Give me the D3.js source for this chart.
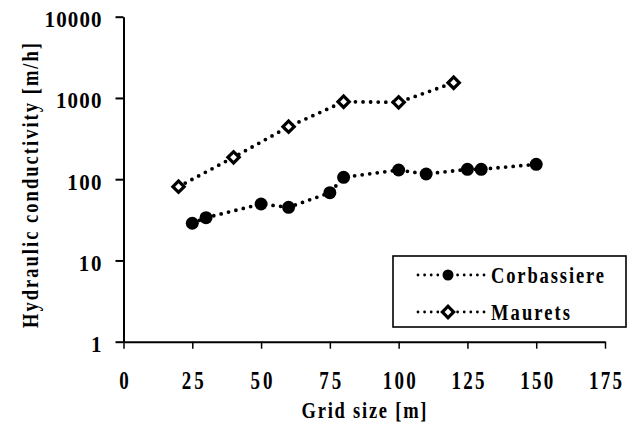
<!DOCTYPE html>
<html>
<head>
<meta charset="utf-8">
<script src="https://cdn.jsdelivr.net/npm/d3@7"></script>
<style>
  html, body { margin: 0; padding: 0; background: #fff; }
  svg { display: block; }
  text { font-family: "Liberation Serif", "Times New Roman", serif; font-weight: bold; fill: #000; }
</style>
</head>
<body>
<svg id="chart" width="637" height="424"></svg>
<script>
// ---- data ----
const corbassiereX = [25, 30, 50, 60, 75, 80, 100, 110, 125, 130, 150];
const corbassiereY = [28.7, 33.6, 49.5, 45.1, 68.2, 105.5, 129.7, 115.8, 132.4, 132.4, 152.5];
const mauretsX = [20, 40, 60, 80, 100, 120];
const mauretsY = [80.9, 186, 443, 899, 884, 1540];
const xTicks = [0, 25, 50, 75, 100, 125, 150, 175];
const yTicks = [1, 10, 100, 1000, 10000];
const seriesNames = ["Corbassiere", "Maurets"];
const xTitle = "Grid size [m]";
const yTitle = "Hydraulic conductivity [m/h]";

// ---- layout ----
const svg = d3.select("#chart");
const x = d3.scaleLinear().domain([0, 175]).range([123.5, 605]);
const y = d3.scaleLog().domain([1, 10000]).range([341.7, 16.7]);
const FONT = "'Liberation Serif', 'Times New Roman', serif";

// text that is taller than wide, with letter spacing, as in the scanned original
function tallText(parent, tx, ty, str, o) {
  const g = parent.append("g")
    .attr("transform", `translate(${tx},${ty})` + (o.rotate ? ` rotate(${o.rotate})` : "") + ` scale(1,${o.sy})`);
  const t = g.append("text").attr("x", 0).attr("y", 0)
    .attr("text-anchor", o.anchor || "start")
    .style("font-size", o.size + "px").style("font-family", FONT).style("font-weight", "bold")
    .text(str);
  if (o.len) t.attr("textLength", o.len).attr("lengthAdjust", "spacing");
  return t;
}

// axes
const yAxis = svg.append("g").attr("transform", `translate(${x(0)},0)`)
  .call(d3.axisLeft(y).tickValues(yTicks).tickFormat(d3.format("d")).tickSize(8).tickSizeOuter(0));
yAxis.select(".domain").attr("stroke", "#000").attr("stroke-width", 2);
yAxis.selectAll(".tick line").attr("stroke", "#000").attr("stroke-width", 2);
yAxis.selectAll(".tick text").remove();
yAxis.selectAll(".tick").each(function(d) {
  tallText(d3.select(this), -22, 10, String(d), { size: 21, sy: 1.12, anchor: "end", len: String(d).length * 11.4 });
});

const xAxis = svg.append("g").attr("transform", `translate(0,${y(1)})`)
  .call(d3.axisBottom(x).tickValues(xTicks).tickSize(7).tickSizeOuter(0));
xAxis.select(".domain").attr("stroke", "#000").attr("stroke-width", 2);
xAxis.selectAll(".tick line").attr("stroke", "#000").attr("stroke-width", 1.5);
xAxis.selectAll(".tick text").remove();
xAxis.selectAll(".tick").each(function(d) {
  tallText(d3.select(this), 0, 47.5, String(d), { size: 19, sy: 1.38, anchor: "middle", len: String(d).length * 11 });
});

// titles
tallText(svg, 364, 418.3, xTitle, { size: 18.5, sy: 1.3, anchor: "middle", len: 125 });
tallText(svg, 37.5, 185.5, yTitle, { size: 18.5, sy: 1.3, anchor: "middle", len: 285, rotate: -90 });

// lines
const line = d3.line().x(d => x(d[0])).y(d => y(d[1]));
const dotted = sel => sel.attr("fill", "none").attr("stroke", "#000").attr("stroke-width", 3.8)
  .attr("stroke-dasharray", "0,7.6").attr("stroke-linecap", "round");

const corb = corbassiereX.map((v, i) => [v, corbassiereY[i]]);
const maur = mauretsX.map((v, i) => [v, mauretsY[i]]);

svg.append("path").datum(corb).attr("d", line).call(dotted);
svg.append("path").datum(maur).attr("d", line).call(dotted);

const squarePath = d3.symbol().type(d3.symbolSquare).size(64)();
const drawCircle = (g, cx, cy, r) => g.append("circle").attr("cx", cx).attr("cy", cy).attr("r", r).attr("fill", "#000");
const drawDiamond = (g, cx, cy) => g.append("path").attr("d", squarePath)
  .attr("transform", `translate(${cx},${cy}) rotate(45)`).attr("fill", "#fff").attr("stroke", "#000").attr("stroke-width", 3.2);

svg.append("g").selectAll("circle").data(corb).join("circle")
  .attr("cx", d => x(d[0])).attr("cy", d => y(d[1])).attr("r", 6.5).attr("fill", "#000");
svg.append("g").selectAll("path").data(maur).join("path")
  .attr("d", squarePath)
  .attr("transform", d => `translate(${x(d[0])},${y(d[1])}) rotate(45)`)
  .attr("fill", "#fff").attr("stroke", "#000").attr("stroke-width", 3.2);

// legend
const lg = svg.append("g");
lg.append("rect").attr("x", 393).attr("y", 256).attr("width", 233).attr("height", 71)
  .attr("fill", "#fff").attr("stroke", "#000").attr("stroke-width", 1.6);
const legendRows = [275, 312];
const textLens = [113, 79];
seriesNames.forEach((name, i) => {
  const ly = legendRows[i];
  lg.append("line").attr("x1", 418).attr("x2", 488).attr("y1", ly).attr("y2", ly)
    .attr("stroke", "#000").attr("stroke-width", 2.8).attr("stroke-dasharray", "0,6.6").attr("stroke-linecap", "round");
  if (i === 0) drawCircle(lg, 448, ly, 5.5);
  else drawDiamond(lg, 448, ly);
  tallText(lg, 491, ly + 8, name, { size: 18.5, sy: 1.3, len: textLens[i] });
});
</script>
</body>
</html>
